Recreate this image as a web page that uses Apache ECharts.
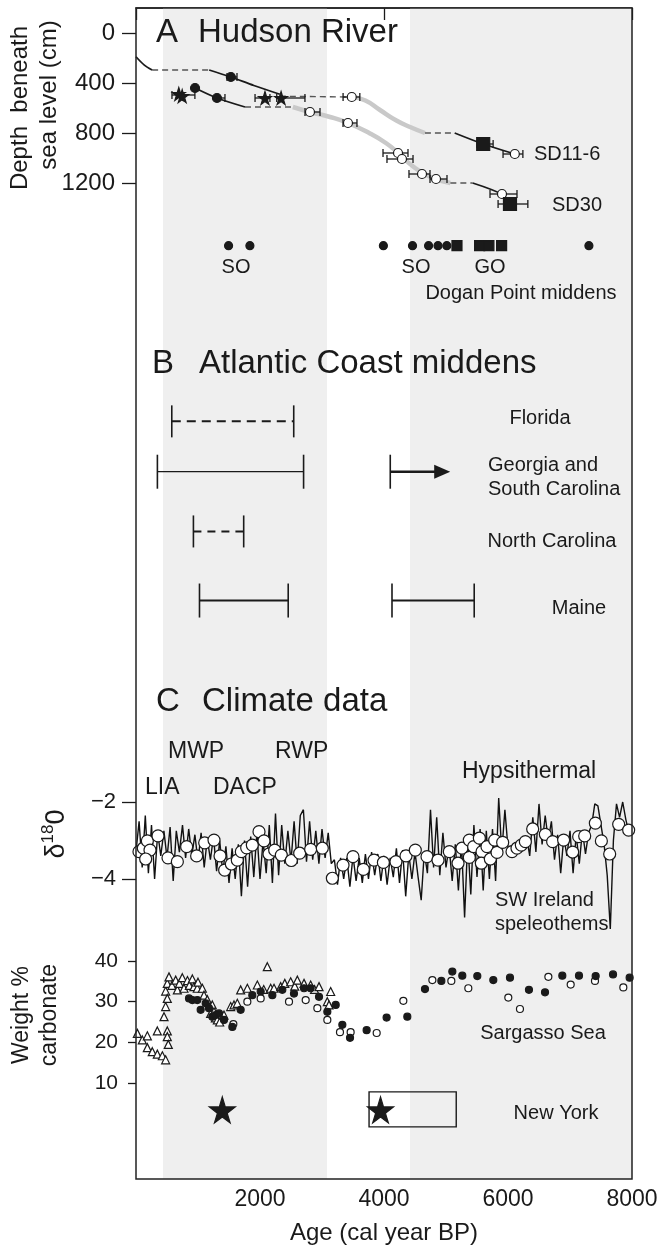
<!DOCTYPE html>
<html>
<head>
<meta charset="utf-8">
<script src="https://cdn.jsdelivr.net/npm/echarts@6.0.0/dist/echarts.min.js"></script>
<style>
html,body{margin:0;padding:0;background:#fff;}
#chart{width:664px;height:1250px;}
</style>
</head>
<body>
<div id="chart"></div>
<script>
// ---- data ----
var ageLabels = [2000, 4000, 6000, 8000];
var warmBands = [[435, 3080], [4420, 8000]];

// A  Hudson River cores  [age, depth cm]
var sd116Solid = [[[0, 190], [130, 255], [260, 296]], [[1180, 296], [1530, 352], [1900, 420], [2320, 490]], [[5140, 800], [5600, 888], [6110, 968]]];
var sd116Dash = [[[260, 296], [1180, 296]], [[2320, 506], [3480, 512]], [[4660, 800], [5140, 800]]];
var sd116Gray = [[3480, 512], [3700, 540], [3935, 616], [4200, 700], [4420, 752], [4660, 800]];
var sd30Solid = [[[952, 440], [1306, 520], [1758, 592]], [[5430, 1200], [5900, 1290], [6050, 1370]]];
var sd30Dash = [[[1758, 592], [2530, 592]], [[5070, 1200], [5430, 1200]]];
var sd30Gray = [[2530, 592], [2806, 632], [3130, 672], [3420, 720], [3760, 800], [4030, 880], [4230, 960], [4450, 1060], [4740, 1150], [5070, 1200]];
var coreStars = [[690, 488], [745, 505], [2080, 520], [2340, 520]];
var coreDots = [[952, 440], [1306, 520], [1530, 352]];
var coreOpen = [[3480, 512], [6110, 968], [2806, 632], [3419, 720], [4226, 960], [4290, 1008], [4613, 1128], [4839, 1168], [5903, 1288]];
var coreSquares = [[5600, 888], [6032, 1368]];
// [age, depth, low, high]
var coreErr = [[690, 496, 580, 950], [1306, 520, 1306, 1435], [1530, 352, 1468, 1629], [2080, 520, 1920, 2160], [2340, 520, 2270, 2725],
  [3480, 512, 3340, 3610], [5600, 888, 5500, 5760], [6110, 968, 5920, 6240], [2806, 632, 2726, 2968], [3419, 720, 3339, 3564],
  [4226, 960, 3984, 4387], [4290, 1008, 4048, 4468], [4613, 1128, 4403, 4742], [4839, 1168, 4742, 5016], [5903, 1288, 5710, 6145],
  [6032, 1368, 5840, 6320]];

// Dogan Point middens (ages)
var doganDots = [1493, 1837, 3990, 4460, 4719, 4871, 5013, 7305];
var doganSquares = [5177, 5542, 5692, 5897];

// B  Atlantic Coast middens
var middenSites = ['Florida', 'Georgia and\nSouth Carolina', 'North Carolina', 'Maine'];
var middenEarly = [[577, 2544], [345, 2703], [926, 1737], [1024, 2455]];
var middenLate = [null, [4101, 5068], null, [4129, 5455]];

// C  SW Ireland speleothem d18O  [age, permil]
var speleo = [[0,-3.3],[50,-2.5],[100,-3.7],[150,-2.35],[200,-3.85],[250,-2.6],[300,-4.0],[350,-2.8],[400,-3.4],[450,-2.75],
  [500,-3.45],[550,-2.65],[600,-4.05],[650,-2.75],[700,-3.3],[750,-2.6],[800,-3.45],[850,-2.7],[900,-3.4],[950,-2.85],
  [1000,-3.55],[1050,-2.8],[1100,-3.7],[1150,-2.95],[1200,-3.5],[1250,-2.9],[1300,-3.8],[1350,-3.0],[1400,-3.85],[1450,-3.15],
  [1500,-4.1],[1550,-3.2],[1600,-4.0],[1650,-3.1],[1700,-4.45],[1750,-3.0],[1800,-4.2],[1850,-2.9],[1900,-3.95],[1950,-2.8],
  [2000,-4.0],[2050,-3.0],[2100,-3.85],[2150,-2.6],[2200,-4.1],[2250,-2.3],[2300,-3.9],[2350,-2.6],[2400,-3.6],[2450,-2.75],
  [2500,-3.55],[2550,-2.5],[2600,-3.6],[2650,-2.35],[2700,-2.2],[2750,-3.55],[2800,-2.5],[2850,-3.5],[2900,-2.75],[2950,-3.6],
  [3000,-2.7],[3050,-3.45],[3100,-2.8],[3150,-3.6],[3200,-3.5],[3250,-4.15],[3300,-3.45],[3350,-4.0],[3400,-3.45],[3450,-4.2],
  [3500,-3.4],[3550,-4.05],[3600,-3.45],[3650,-4.1],[3700,-3.35],[3750,-4.0],[3800,-3.3],[3850,-3.9],[3900,-3.35],[3950,-4.05],
  [4000,-3.4],[4050,-4.15],[4100,-3.45],[4150,-3.95],[4200,-3.2],[4250,-4.1],[4300,-3.25],[4350,-4.45],[4400,-3.35],[4450,-4.0],
  [4500,-3.3],[4550,-3.95],[4600,-4.55],[4650,-3.3],[4700,-3.85],[4750,-2.2],[4800,-3.7],[4850,-2.4],[4900,-3.9],[4950,-2.8],
  [5000,-3.7],[5050,-3.15],[5100,-4.05],[5150,-3.1],[5200,-4.3],[5250,-3.05],[5300,-5.0],[5350,-3.0],[5400,-4.4],[5450,-2.6],
  [5500,-3.95],[5550,-2.7],[5600,-4.3],[5650,-2.75],[5700,-4.0],[5750,-2.7],[5800,-4.05],[5850,-1.9],[5900,-3.3],[5950,-2.2],
  [6000,-3.2],[6050,-3.15],[6100,-3.1],[6150,-3.05],[6200,-3.0],[6250,-3.05],[6300,-2.9],[6350,-3.4],[6400,-2.4],[6450,-3.3],
  [6500,-2.05],[6550,-3.1],[6600,-2.35],[6650,-3.0],[6700,-2.5],[6750,-3.5],[6800,-2.85],[6850,-3.85],[6900,-2.9],[6950,-3.4],
  [7000,-2.75],[7050,-3.85],[7100,-2.85],[7150,-3.6],[7200,-2.75],[7250,-3.35],[7300,-2.8],[7350,-2.6],[7400,-2.05],[7450,-2.1],
  [7500,-2.6],[7550,-3.1],[7600,-3.9],[7650,-5.3],[7700,-3.0],[7750,-2.05],[7800,-2.4],[7850,-2.0],[7900,-2.45],[7950,-2.8]];
var speleoMean = [[48,-3.29],[118,-3.2],[183,-3.01],[226,-3.25],[156,-3.48],[355,-2.88],[516,-3.45],[667,-3.55],[817,-3.16],[978,-3.4],
  [1108,-3.06],[1258,-2.99],[1355,-3.4],[1430,-3.77],[1538,-3.61],[1634,-3.51],[1699,-3.29],[1785,-3.19],[1876,-3.12],[1984,-2.77],
  [2064,-3.01],[2145,-3.35],[2237,-3.25],[2344,-3.38],[2505,-3.52],[2640,-3.33],[2817,-3.23],[3005,-3.2],[3167,-3.98],[3339,-3.64],
  [3500,-3.42],[3667,-3.75],[3839,-3.51],[3990,-3.57],[4193,-3.55],[4355,-3.4],[4505,-3.25],[4694,-3.42],[4871,-3.51],[5054,-3.29],
  [5194,-3.59],[5258,-3.2],[5376,-3.44],[5376,-2.99],[5446,-3.16],[5538,-2.94],[5581,-3.29],[5570,-3.59],[5661,-3.16],[5715,-3.48],
  [5785,-2.99],[5823,-3.31],[5914,-3.05],[6065,-3.29],[6145,-3.2],[6215,-3.12],[6280,-3.03],[6398,-2.7],[6602,-2.84],[6720,-3.03],
  [6897,-2.99],[7043,-3.3],[7140,-2.9],[7237,-2.88],[7409,-2.55],[7506,-3.01],[7640,-3.35],[7785,-2.58],[7946,-2.73]];

// Sargasso Sea weight % carbonate  [age, %]
var sargTri = [[22,22.2],[102,20.6],[183,21.6],[183,18.7],[263,17.7],[344,22.8],[344,17.1],[425,16.7],[452,26.3],[478,15.7],
  [478,28.8],[478,32.6],[505,22.8],[505,21.4],[521,19.5],[505,30.8],[505,34.5],[532,36.1],[580,34],[640,35.3],[667,32.9],[700,34.5],
  [747,35.9],[774,33.3],[830,35.2],[860,34],[909,35.6],[935,33.7],[989,33.3],[1000,34.8],[1070,33.3],[1097,31.6],[1150,30.5],
  [1204,27.1],[1231,29.2],[1258,27.5],[1280,26],[1312,25.5],[1350,25],[1419,26.7],[1527,28.8],[1581,29.2],[1634,29.6],[1688,32.9],
  [1796,33.3],[1957,34.1],[2060,33],[2118,38.6],[2172,33.3],[2226,33.3],[2333,33.7],[2400,34.5],[2495,34.9],[2560,33.8],[2602,35.3],
  [2710,34.5],[2817,34.1],[2880,33],[2952,33.7],[3086,30],[3113,29.2],[3140,32.5]];
var sargDots = [[855,30.8],[909,30.4],[989,30.4],[1043,28],[1124,29.6],[1177,28.4],[1231,26.3],[1285,26.7],[1339,27.1],[1419,25.5],
  [1554,23.8],[1688,28],[1876,31.6],[2011,32.5],[2199,31.6],[2360,32.9],[2548,32],[2710,33.3],[2817,33.3],[2952,31.2],[3086,27.5],
  [3221,29.2],[3328,24.3],[3452,21.1],[3720,23],[4042,26.1],[4376,26.3],[4661,33.1],[4925,35.1],[5102,37.4],[5263,36.4],[5505,36.3],
  [5763,35.3],[6032,35.9],[6338,32.9],[6597,32.3],[6876,36.4],[7145,36.4],[7414,36.3],[7694,36.7],[7962,35.9]];
var sargOpen = [[1570,24.5],[1796,30],[2011,30.8],[2468,30],[2737,30.4],[2925,28.4],[3086,25.5],[3290,22.5],[3462,22.5],[3882,22.3],
  [4312,30.2],[4780,35.3],[5086,35.1],[5360,33.3],[6005,31],[6193,28.2],[6651,36.1],[7011,34.2],[7403,35.1],[7860,33.5]];

// New York
var nyStars = [1392, 3944];
var nyBox = [3759, 5165];

// ---- layout (row positions on the hidden 0-100 scale of the frame) ----
var rowDogan = 20.3, rowNY = 94.1;
var middenRows = [35.3, 39.6, 44.7, 50.6];
var middenLook = [{dash: [9, 6], w: 2, cap: 16}, {dash: null, w: 1.2, cap: 17}, {dash: [8, 6], w: 2, cap: 16}, {dash: null, w: 2, cap: 17}];

var FONT = 'Liberation Sans, Arial, sans-serif';
var INK = '#1a1a1a';
var STAR = 'path://M50,0 L61,35 L98,35 L68,57 L79,91 L50,70 L21,91 L32,57 L2,35 L39,35 Z';

function lineSeries(data, xi, style, z) {
  return {type: 'line', xAxisIndex: xi, yAxisIndex: xi, data: data, showSymbol: false, symbol: 'none',
    smooth: style.smooth || false, clip: false, silent: true, z: z,
    lineStyle: {color: style.color, width: style.width, type: style.type || 'solid'}};
}
function scatterSeries(data, xi, symbol, size, fill, z) {
  return {type: 'scatter', xAxisIndex: xi, yAxisIndex: xi, data: data, symbol: symbol, symbolSize: size, clip: false, silent: true, z: z,
    itemStyle: {color: fill, borderColor: INK, borderWidth: 1.2, opacity: 1}};
}

var series = [];
// warm bands
series.push({type: 'line', xAxisIndex: 0, yAxisIndex: 0, data: [], z: 0, silent: true,
  markArea: {silent: true, itemStyle: {color: '#efefef'}, data: warmBands.map(function (b) { return [{xAxis: b[0]}, {xAxis: b[1]}]; })}});

// A
series.push(lineSeries(sd116Gray, 1, {color: '#c9c9c9', width: 4.5, smooth: 0.5}, 2));
series.push(lineSeries(sd30Gray, 1, {color: '#c9c9c9', width: 4.5, smooth: 0.5}, 2));
sd116Dash.concat(sd30Dash).forEach(function (s) { series.push(lineSeries(s, 1, {color: '#555', width: 1.4, type: [6, 4]}, 3)); });
sd116Solid.concat(sd30Solid).forEach(function (s) { series.push(lineSeries(s, 1, {color: INK, width: 1.8, smooth: 0.3}, 3)); });
series.push({type: 'custom', xAxisIndex: 1, yAxisIndex: 1, data: coreErr, clip: false, silent: true, z: 4,
  renderItem: function (params, api) {
    var a = api.coord([api.value(2), api.value(1)]);
    var b = api.coord([api.value(3), api.value(1)]);
    var st = {stroke: INK, lineWidth: 1.3};
    return {type: 'group', children: [
      {type: 'line', shape: {x1: a[0], y1: a[1], x2: b[0], y2: b[1]}, style: st},
      {type: 'line', shape: {x1: a[0], y1: a[1] - 4, x2: a[0], y2: a[1] + 4}, style: st},
      {type: 'line', shape: {x1: b[0], y1: b[1] - 4, x2: b[0], y2: b[1] + 4}, style: st}]};
  }});
series.push(scatterSeries(coreOpen, 1, 'circle', 9, '#fff', 5));
series.push(scatterSeries(coreDots, 1, 'circle', 9, INK, 5));
series.push(scatterSeries(coreSquares, 1, 'rect', 13, INK, 5));
series.push(scatterSeries(coreStars, 1, STAR, 13, INK, 5));

// Dogan Point
series.push(scatterSeries(doganDots.map(function (a) { return [a, rowDogan]; }), 0, 'circle', 8, INK, 5));
series.push(scatterSeries(doganSquares.map(function (a) { return [a, rowDogan]; }), 0, 'rect', 10, INK, 5));

// B middens
var middenData = [];
middenEarly.forEach(function (r, i) { middenData.push([r[0], r[1], middenRows[i], i, 0]); });
middenLate.forEach(function (r, i) { if (r) middenData.push([r[0], r[1], middenRows[i], i, 1]); });
series.push({type: 'custom', xAxisIndex: 0, yAxisIndex: 0, data: middenData, clip: false, silent: true, z: 4,
  renderItem: function (params, api) {
    var look = middenLook[api.value(3)];
    var a = api.coord([api.value(0), api.value(2)]);
    var b = api.coord([api.value(1), api.value(2)]);
    var arrow = api.value(4) === 1 && api.value(3) === 1;
    var kids = [{type: 'line', shape: {x1: a[0], y1: a[1] - look.cap, x2: a[0], y2: a[1] + look.cap}, style: {stroke: INK, lineWidth: 1.6}}];
    if (arrow) {
      kids.push({type: 'line', shape: {x1: a[0], y1: a[1], x2: b[0] - 14, y2: b[1]}, style: {stroke: INK, lineWidth: 2.6}});
      kids.push({type: 'polygon', shape: {points: [[b[0] - 16, b[1] - 7], [b[0], b[1]], [b[0] - 16, b[1] + 7]]}, style: {fill: INK}});
    } else {
      kids.push({type: 'line', shape: {x1: a[0], y1: a[1], x2: b[0], y2: b[1]}, style: {stroke: INK, lineWidth: look.w, lineDash: look.dash}});
      kids.push({type: 'line', shape: {x1: b[0], y1: b[1] - look.cap, x2: b[0], y2: b[1] + look.cap}, style: {stroke: INK, lineWidth: 1.6}});
    }
    return {type: 'group', children: kids};
  }});

// C speleothem
series.push(lineSeries(speleo, 2, {color: '#111', width: 1.4}, 3));
series.push(scatterSeries(speleoMean, 2, 'circle', 12, '#fff', 5));

// Sargasso
series.push(scatterSeries(sargTri, 3, 'triangle', 8, '#fff', 4));
series.push(scatterSeries(sargOpen, 3, 'circle', 7, '#fff', 4));
series.push(scatterSeries(sargDots, 3, 'circle', 7, INK, 5));

// New York
series.push({type: 'custom', xAxisIndex: 0, yAxisIndex: 0, data: [[nyBox[0], nyBox[1], rowNY]], clip: false, silent: true, z: 4,
  renderItem: function (params, api) {
    var a = api.coord([api.value(0), api.value(2)]);
    var b = api.coord([api.value(1), api.value(2)]);
    return {type: 'rect', shape: {x: a[0], y: a[1] - 18, width: b[0] - a[0], height: 35}, style: {fill: 'none', stroke: INK, lineWidth: 1.4}};
  }});
series.push(scatterSeries(nyStars.map(function (a) { return [a, rowNY]; }), 0, STAR, 26, INK, 5));

function txt(s, x, y, size, align, extra) {
  var e = {type: 'text', x: x, y: y, z: 100, style: {text: s, font: size + 'px ' + FONT, fill: INK,
    textAlign: align || 'left', textVerticalAlign: 'middle'}};
  if (extra) for (var k in extra) e[k] = extra[k];
  return e;
}

var graphics = [
  txt('A', 156, 33, 33), txt('Hudson River', 198, 33, 33),
  txt('B', 152, 364, 33), txt('Atlantic Coast middens', 199, 364, 33),
  txt('C', 156, 702, 33), txt('Climate data', 202, 702, 33),
  txt('SD11-6', 534, 154, 20), txt('SD30', 552, 205, 20),
  txt('SO', 236, 267, 20, 'center'), txt('SO', 416, 267, 20, 'center'), txt('GO', 490, 267, 20, 'center'),
  txt('Dogan Point middens', 521, 293, 20, 'center'),
  txt('Florida', 540, 418, 20, 'center'), txt('Georgia and', 488, 465, 20), txt('South Carolina', 488, 489, 20),
  txt('North Carolina', 552, 541, 20, 'center'), txt('Maine', 579, 608, 20, 'center'),
  txt('MWP', 168, 752, 23), txt('RWP', 275, 752, 23), txt('LIA', 145, 788, 23), txt('DACP', 213, 788, 23),
  txt('Hypsithermal', 462, 772, 23),
  txt('SW Ireland', 495, 900, 20), txt('speleothems', 495, 924, 20),
  txt('Sargasso Sea', 543, 1033, 20, 'center'), txt('New York', 556, 1113, 20, 'center'),
  txt('Depth  beneath', 20, 108, 24, 'center', {rotation: Math.PI / 2}),
  txt('sea level (cm)', 49, 95, 24, 'center', {rotation: Math.PI / 2}),
  txt('Weight %', 22, 1015, 23, 'center', {rotation: Math.PI / 2}),
  txt('carbonate', 50, 1015, 23, 'center', {rotation: Math.PI / 2}),
  {type: 'text', x: 55, y: 834, z: 100, rotation: Math.PI / 2, style: {text: '{d|δ}{s|18}{d|0}', fill: INK, textAlign: 'center', textVerticalAlign: 'middle',
    rich: {d: {fontSize: 27, fontFamily: FONT, fill: INK, lineHeight: 30, verticalAlign: 'bottom'},
           s: {fontSize: 17, fontFamily: FONT, fill: INK, lineHeight: 30, verticalAlign: 'top'}}}}
];

var hiddenX = function (g) { return {gridIndex: g, type: 'value', min: 0, max: 8000, show: false}; };
var tickStyle = {color: INK, width: 1.3};
var plain = function (v) { return String(v); };

var chart = echarts.init(document.getElementById('chart'), null, {renderer: 'canvas'});
chart.setOption({
  animation: false,
  backgroundColor: '#fff',
  grid: [
    {left: 136, right: 32, top: 8, bottom: 65, show: true, borderColor: '#222', borderWidth: 1.5, backgroundColor: 'transparent', z: 10},
    {left: 136, width: 496, top: 33, height: 150},
    {left: 136, width: 496, top: 802, height: 77},
    {left: 136, width: 496, top: 961, height: 122}
  ],
  xAxis: [
    {gridIndex: 0, type: 'value', min: 0, max: 8000, interval: 1000,
      axisLine: {lineStyle: {color: '#222', width: 1.5}},
      axisTick: {show: true, length: 12, lineStyle: tickStyle},
      axisLabel: {fontSize: 23, fontFamily: FONT, color: INK, margin: 9,
        formatter: function (v) { return ageLabels.indexOf(v) >= 0 ? String(v) : ''; }},
      splitLine: {show: false},
      name: 'Age (cal year BP)', nameLocation: 'middle', nameGap: 42,
      nameTextStyle: {fontSize: 24, fontFamily: FONT, color: INK}},
    hiddenX(1), hiddenX(2), hiddenX(3)
  ],
  yAxis: [
    {gridIndex: 0, type: 'value', min: 0, max: 100, inverse: true, show: false},
    {gridIndex: 1, type: 'value', min: 0, max: 1200, interval: 400, inverse: true,
      axisLine: {show: false}, axisTick: {show: true, length: 14, lineStyle: tickStyle},
      axisLabel: {fontSize: 24, fontFamily: FONT, color: INK, margin: 21, formatter: plain}, splitLine: {show: false}},
    {gridIndex: 2, type: 'value', min: -4, max: -2, interval: 2,
      axisLine: {show: false}, axisTick: {show: true, length: 14, lineStyle: tickStyle},
      axisLabel: {fontSize: 22, fontFamily: FONT, color: INK, margin: 20, formatter: function (v) { return String(v).replace('-', '\u2212'); }},
      splitLine: {show: false}},
    {gridIndex: 3, type: 'value', min: 10, max: 40, interval: 10,
      axisLine: {show: false}, axisTick: {show: true, length: 8, lineStyle: tickStyle},
      axisLabel: {fontSize: 21, fontFamily: FONT, color: INK, margin: 18, formatter: plain}, splitLine: {show: false}}
  ],
  graphic: graphics,
  series: series
});
</script>
</body>
</html>
